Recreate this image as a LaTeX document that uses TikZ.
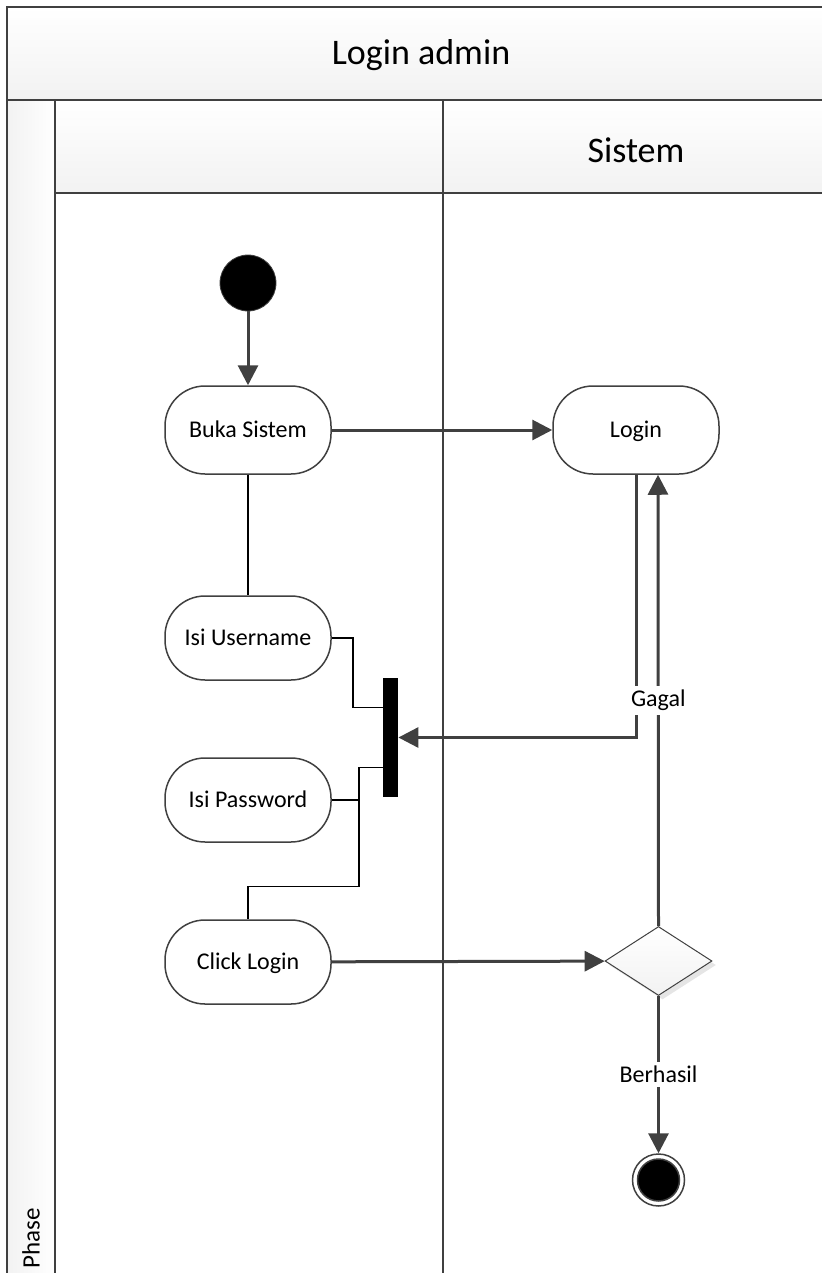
\documentclass[tikz,border=0pt]{standalone}
\usepackage{fontspec}
\setmainfont{Carlito}
\usetikzlibrary{arrows.meta,calc,shapes.geometric,shadows}
\definecolor{linec}{HTML}{404040}
\definecolor{headc}{HTML}{F2F2F2}

\begin{document}
\begin{tikzpicture}[x=0.5pt, y=-0.5pt,
    band/.style={top color=white, bottom color=headc},
    frame/.style={draw=linec, line width=1pt},
    act/.style={draw=linec, line width=0.75pt, fill=white, rounded corners=20pt,
      minimum width=83pt, minimum height=42pt, text height=9pt, text depth=1.3pt,
      font=\fontsize{12}{14}\selectfont},
    flow/.style={draw=linec, line width=1.5pt, -{Triangle[length=10pt,width=10pt]}},
    link/.style={draw=black, line width=0.75pt},
    lbl/.style={fill=white, inner sep=2pt, font=\fontsize{12}{14}\selectfont}]
  \useasboundingbox (0,0) rectangle (821,1273);
  \fill[band] (7,7) rectangle (830,100);
  \fill[band] (55,100) rectangle (830,193);
  \fill[left color=headc, right color=white] (7,100) rectangle (55,1280);
  \draw[frame] (7,1280) -- (7,7) -- (830,7);
  \draw[frame] (7,100) -- (830,100);
  \draw[frame] (55,100) -- (55,1280);
  \draw[frame] (55,193) -- (830,193);
  \draw[frame] (443,100) -- (443,1280);
  \node[font=\fontsize{18}{22}\selectfont] (title) at (421,55) {Login admin};
  \node[font=\fontsize{18}{22}\selectfont] (lane) at (636,150) {Sistem};
  \node[rotate=90, font=\fontsize{12.5}{14}\selectfont] (phase) at (31,1238) {Phase};

  \node[circle, fill=black, draw=linec, minimum width=27pt, minimum height=28pt, inner sep=0pt] (start) at (248,283) {};
  \node[act, minimum height=44pt] (buka) at (248,430) {Buka Sistem};
  \node[act, minimum height=44pt] (login) at (636,430) {Login};
  \node[act] (user) at (248,638) {Isi Username};
  \node[act] (pass) at (248,800) {Isi Password};
  \node[act] (click) at (248,962) {Click Login};
  \node[fill=black, minimum width=7.5pt, minimum height=59.5pt, inner sep=0pt] (bar) at (390.5,737.5) {};
  \node[diamond, draw=linec, line width=0.5pt, top color=white, bottom color=headc, aspect=1.55,
    minimum width=53.5pt, minimum height=34.5pt, inner sep=0pt,
    drop shadow={shadow xshift=2pt, shadow yshift=-2pt, fill=black!20}] (dec) at (658.5,961) {};
  \node[circle, draw=linec, line width=0.75pt, fill=white, minimum size=26pt, inner sep=0pt,
    path picture={\fill[black] (path picture bounding box.center) circle (10.5pt);
      \draw[linec, line width=0.75pt] (path picture bounding box.center) circle (10.5pt);}] (stop) at (658.5,1180) {};

  \draw[flow] (start) -- (buka);
  \draw[flow] (buka) -- (login);
  \draw[link] (buka) -- (user);
  \draw[link] (user.east) -- ++(21,0) |- ($(bar.north west)!0.25!(bar.south west)$);
  \draw[link] (pass.east) -- ++(27,0) coordinate (pj) |- ($(bar.north west)!0.75!(bar.south west)$);
  \draw[link] (pj) |- ($(click.north)+(0,-33)$) -- (click.north);
  \draw[flow] (login.south) |- (bar.east);
  \draw[flow] (click) -- (dec);
  \draw[flow] (dec.north) -- node[lbl] {Gagal} ([xshift=11pt]login.south);
  \draw[flow] (dec.south) -- node[lbl] {Berhasil} (stop);
\end{tikzpicture}
\end{document}
